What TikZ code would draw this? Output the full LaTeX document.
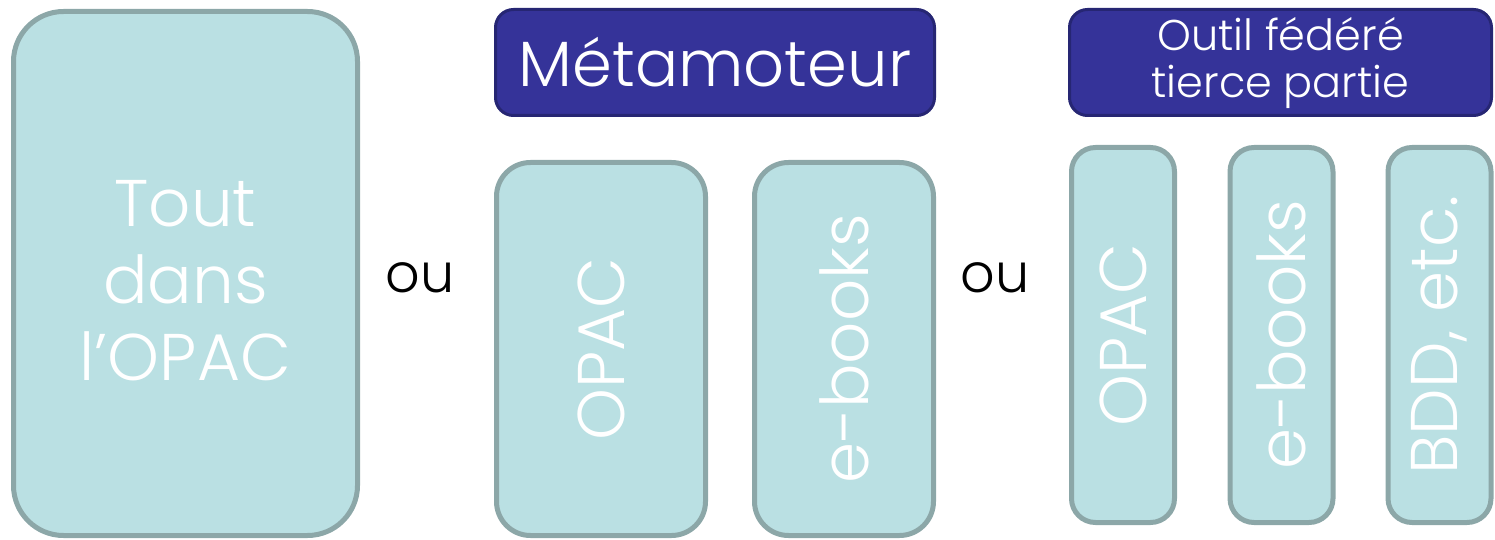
\documentclass[tikz,border=0pt]{standalone}
\usepackage{fontspec}
\setmainfont{Poppins}[UprightFont=* Light]
\usepackage{tikz}

\definecolor{paleteal}{HTML}{BAE0E3}
\definecolor{tealedge}{HTML}{8CA7A8}
\definecolor{indigo}{HTML}{353399}
\definecolor{indigoedge}{HTML}{262673}

\begin{document}
\begin{tikzpicture}[x=0.5pt,y=-0.5pt,
                    part box/.style={rectangle,draw=tealedge,fill=paleteal,line width=2.5pt,inner sep=0pt},
                    part text/.style={text=white,font=\fontsize{33}{38.5}\selectfont,align=center,inner sep=0pt},
                    head box/.style={rectangle,draw=indigoedge,fill=indigo,line width=1.5pt,
                      rounded corners=9pt,text=white,align=center,inner sep=0pt,
                      minimum height=53pt},
                    or label/.style={font=\fontsize{27}{30}\selectfont,inner sep=0pt}]

  \useasboundingbox (0,0) rectangle (1495,540);

  % tout dans l'OPAC
  \node[part box,rounded corners=25pt,minimum width=172pt,minimum height=262pt] (all) at (185.5,273.5) {};
  \node[part text] (all text) at (185.5,281) {Tout\\dans\\l’OPAC};
  \node[or label] (or1) at (420,278) {ou};

  % metamoteur
  \node[head box,minimum width=219.5pt,font=\fontsize{32}{38}\selectfont] (meta) at (715,62.5) {Métamoteur};
  \node[part box,rounded corners=17pt,minimum width=104.5pt,minimum height=186.5pt] (opac1) at (601,349) {};
  \node[part text,rotate=90] (opac1 text) at (opac1) {OPAC};
  \node[part box,rounded corners=17pt,minimum width=89.5pt,minimum height=186.5pt] (ebook1) at (844,349) {};
  \node[part text,rotate=90] (ebook1 text) at (ebook1) {e-books};
  \node[or label] (or2) at (995,278) {ou};

  % outil federe
  \node[head box,minimum width=211pt,font=\fontsize{21.5}{23.5}\selectfont] (fed) at (1280.5,62.5)
    {Outil fédéré\\tierce partie};
  \node[part box,rounded corners=12pt,minimum width=51.5pt,minimum height=187.5pt] (opac2) at (1123,335) {};
  \node[part text,rotate=90] (opac2 text) at (opac2) {OPAC};
  \node[part box,rounded corners=12pt,minimum width=51.5pt,minimum height=187.5pt] (ebook2) at (1281.5,335) {};
  \node[part text,rotate=90] (ebook2 text) at (ebook2) {e-books};
  \node[part box,rounded corners=12pt,minimum width=51.5pt,minimum height=187.5pt] (bdd) at (1439.5,335) {};
  \node[part text,rotate=90] (bdd text) at (bdd) {BDD, etc.};
\end{tikzpicture}
\end{document}
